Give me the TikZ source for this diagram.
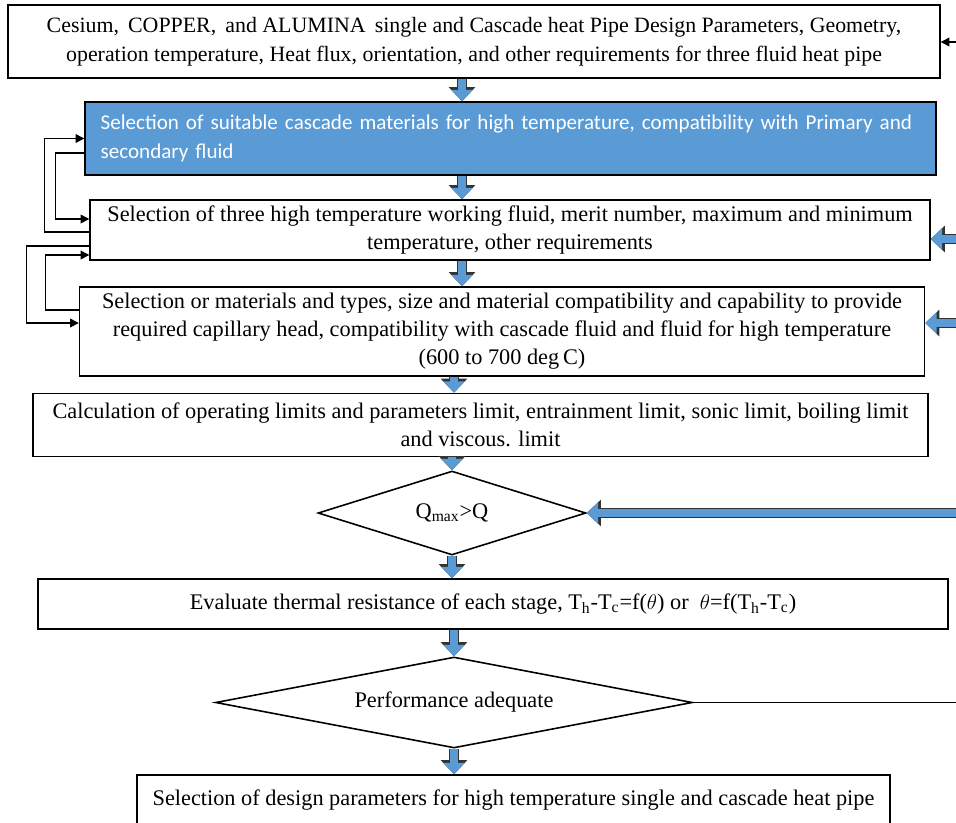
\documentclass[tikz,border=0pt]{standalone}
\usepackage{fontspec}
\setmainfont{Liberation Serif}
\newfontfamily\calibrifont{Carlito}
\usepackage{tikz}
\usetikzlibrary{arrows.meta}
\usetikzlibrary{positioning,shapes.geometric}
\usepackage{xcolor}
\definecolor{boxblue}{HTML}{5B9BD5}
\tikzset{
    box/.style={
        draw,
        rectangle,
        line width=0.9pt,
        fill=white,
        align=center,
        inner sep=2pt,
        font=\fontsize{12.7}{16}\selectfont
    },
    bluebox/.style={
        box,
        fill=boxblue,
        text=white,
        align=left,
        text width=16.4cm,
        inner xsep=0.31cm,
        font=\calibrifont\fontsize{12}{16.5}\selectfont
    },
    decision/.style={
        draw,
        diamond,
        line width=0.9pt,
        fill=white,
        inner sep=0pt,
        font=\fontsize{12.7}{16}\selectfont
    },
    flow/.style={
        draw=boxblue,
        line width=4pt,
        -{Triangle[length=6.5pt,width=12pt]},
        preaction={draw=black!80, line width=5.6pt, -{Triangle[length=8pt,width=14.6pt]}}
    },
    feedback/.style={
        draw,
        line width=0.8pt,
        -{Triangle[length=5pt,width=5pt]}
    }
}

\begin{document}
\begin{tikzpicture}[x=0.02cm, y=-0.02cm]
  \useasboundingbox (0,0) rectangle (956,822);
  \clip (0,0) rectangle (956,822);

  % Boxes
  \node[box, minimum width=18.64cm, minimum height=1.46cm, font=\fontsize{12.45}{16.5}\selectfont] (b1) at (474,41.5)
    {Cesium,\, COPPER,\, and ALUMINA\, single and Cascade heat Pipe Design Parameters, Geometry,\\
     operation temperature, Heat flux, orientation, and other requirements for three fluid heat pipe};
  \node[bluebox, minimum height=1.46cm] (b2) at (510.5,138.5)
    {Selection of suitable cascade materials for high temperature, compatibility with Primary and\\
     secondary fluid};
  \node[box, minimum width=16.8cm, minimum height=1.2cm] (b3) at (510,230)
    {Selection of three high temperature working fluid, merit number, maximum and minimum\\
     temperature, other requirements};
  \node[box, minimum width=16.9cm, minimum height=1.78cm] (b4) at (502,331.5)
    {Selection or materials and types, size and material compatibility and capability to provide\\
     required capillary head, compatibility with cascade fluid and fluid for high temperature\\
     (600 to 700 deg\,C)};
  \node[box, minimum width=17.9cm, minimum height=1.26cm] (b5) at (480.5,425)
    {Calculation of operating limits and parameters limit, entrainment limit, sonic limit, boiling limit\\
     and viscous. limit};
  \node[decision, aspect=3, minimum width=5.36cm, minimum height=1.68cm] (d1) at (452,513)
    {Q\textsubscript{max}>Q};
  \node[box, minimum width=18.2cm, minimum height=1.0cm] (b6) at (493,604)
    {Evaluate thermal resistance of each stage, T\textsubscript{h}-T\textsubscript{c}=f($\theta$) or\ \ $\theta$=f(T\textsubscript{h}-T\textsubscript{c})};
  \node[decision, aspect=5.2, minimum width=9.54cm, minimum height=1.82cm] (d2) at (454,702.5)
    {Performance adequate};
  \node[box, minimum width=15.06cm, minimum height=1.02cm] (b7) at (513.5,800.5)
    {Selection of design parameters for high temperature single and cascade heat pipe};

  % Main flow
  \coordinate (axis) at (462,0);
  \draw[flow] (b1.south -| axis) -- (b2.north -| axis);
  \draw[flow] (b2.south -| axis) -- (b3.north -| axis);
  \draw[flow] (b3.south -| axis) -- (b4.north -| axis);
  \draw[flow] (b4.south -| d2.north) -- (b5.north -| d2.north);
  \draw[flow] (b5.south -| d1.north) -- (d1.north);
  \draw[flow] (d1.south) -- (d1.south |- b6.north);
  \draw[flow] (b6.south -| d2.north) -- (d2.north);
  \draw[flow] (d2.south) -- (d2.south |- b7.north);

  % Returns from the right
  \coordinate (r1) at (980,42);
  \coordinate (r3) at (980,239);
  \coordinate (r4) at (980,323);
  \coordinate (r5) at (980,513);
  \coordinate (r6) at (980,702.5);
  \draw[feedback] (r1) -- (r1 -| b1.east);
  \draw[flow] (r3) -- (r3 -| b3.east);
  \draw[flow] (r4) -- (r4 -| b4.east);
  \draw[flow] (r5) -- (d1.east);
  \draw[line width=0.8pt] (d2.east) -- (r6);

  % Loops on the left
  \draw[feedback] ([yshift=-0.04cm]b3.west) -- ++(-45,0) |- (b2.west);
  \draw[feedback] ([yshift=-0.29cm]b2.west) -- ++(-29,0) |- ([yshift=0.22cm]b3.west);
  \draw[feedback] ([yshift=-0.32cm]b3.west) -- ++(-63,0) |- ([yshift=0.17cm]b4.west);
  \draw[feedback] ([yshift=0.43cm]b4.west) -- ++(-33,0) |- ([yshift=-0.5cm]b3.west);
\end{tikzpicture}
\end{document}
